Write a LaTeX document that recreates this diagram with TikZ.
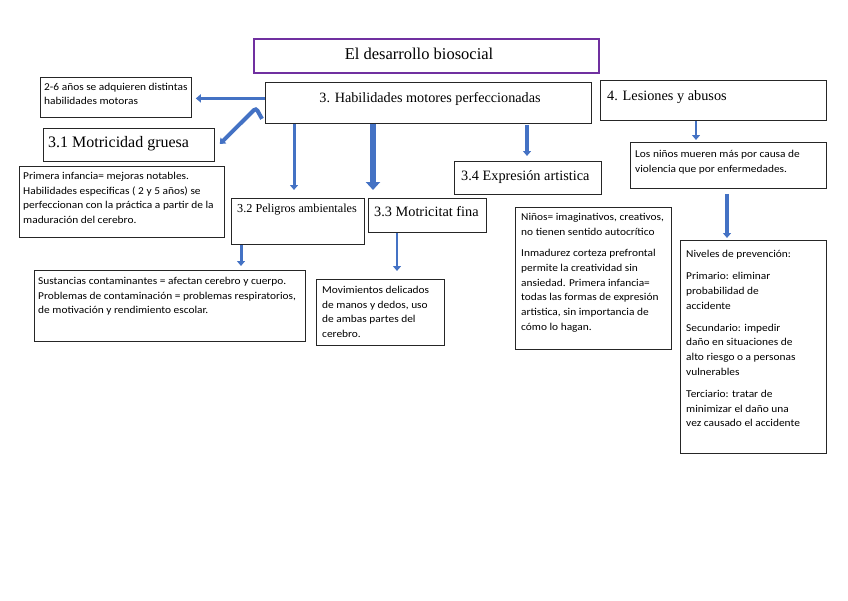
\documentclass[tikz,border=0pt]{standalone}
\usepackage{fontspec}
\setmainfont{Liberation Serif}
\newfontfamily\bodyfont[FakeStretch=1.085]{Carlito}
\usetikzlibrary{arrows.meta,calc}
\definecolor{arrblue}{HTML}{4472C4}
\definecolor{titlepurple}{HTML}{7030A0}
\tikzset{
  box/.style={draw=black!85, line width=0.8pt, inner sep=0pt, anchor=north west},
  head/.style={inner sep=0pt, anchor=west, font=\fontsize{14.3}{16}\selectfont},
  body/.style={inner sep=0pt, anchor=north west, align=left, font=\bodyfont\fontsize{10.5}{14.7}\selectfont},
  arr/.style={draw=arrblue, line width=#1, -{Triangle[width=8pt,length=5pt]}},
}
\begin{document}
\begin{tikzpicture}[x=1pt,y=-1pt]
\useasboundingbox (0,0) rectangle (848,600);
% boxes
\node[box, draw=titlepurple, line width=2.2pt, minimum width=345pt, minimum height=34pt] (title) at (253,38) {};
\node[box, minimum width=151pt, minimum height=40pt] (b26) at (40,77) {};
\node[box, minimum width=326pt, minimum height=41pt] (b3) at (265,82) {};
\node[box, minimum width=226pt, minimum height=40pt] (b4) at (600,80) {};
\node[box, minimum width=171pt, minimum height=33pt] (b31) at (43,128) {};
\node[box, minimum width=205pt, minimum height=71pt] (bpi) at (19,166) {};
\node[box, minimum width=133pt, minimum height=46pt] (b32) at (231,198) {};
\node[box, minimum width=118pt, minimum height=34pt] (b33) at (368,198) {};
\node[box, minimum width=147pt, minimum height=33pt] (b34) at (454,161) {};
\node[box, minimum width=196pt, minimum height=46pt] (bln) at (630,142) {};
\node[box, minimum width=156pt, minimum height=142pt] (bni) at (515,207) {};
\node[box, minimum width=146pt, minimum height=213pt] (bnv) at (680,240) {};
\node[box, minimum width=271pt, minimum height=71pt] (bsu) at (34,270) {};
\node[box, minimum width=128pt, minimum height=66pt] (bmo) at (316,279) {};
% headings
\node[inner sep=0pt, font=\fontsize{16.5}{18}\selectfont] (ttitle) at (419,54) {El desarrollo biosocial};
\node[inner sep=0pt, font=\fontsize{14.2}{16}\selectfont] (t3) at (430,99) {3. Habilidades motores perfeccionadas};
\node[head] (t4) at (607,97) {4. Lesiones y abusos};
\node[head, font=\fontsize{16}{18}\selectfont] (t31) at (48,144) {3.1 Motricidad gruesa};
\node[head, font=\fontsize{12.2}{14}\selectfont] (t32) at (237,210) {3.2 Peligros ambientales};
\node[head] (t33) at (374,212) {3.3 Motricitat fina};
\node[head] (t34) at (461,177) {3.4 Expresión artistica};
% body texts
\node[body, font=\bodyfont\fontsize{10.5}{14}\selectfont] (t26) at (44,83) {2-6 años se adquieren distintas\\habilidades motoras};
\node[body] (tpi) at (23,172) {Primera infancia= mejoras notables.\\Habilidades especificas ( 2 y 5 años) se\\perfeccionan con la práctica a partir de la\\maduración del cerebro.};
\node[body] (tsu) at (38,277) {Sustancias contaminantes = afectan cerebro y cuerpo.\\Problemas de contaminación = problemas respiratorios,\\de motivación y rendimiento escolar.};
\node[body] (tmo) at (322,286) {Movimientos delicados\\de manos y dedos, uso\\de ambas partes del\\cerebro.};
\node[body] (tni) at (521,213) {Niños= imaginativos, creativos,\\no tienen sentido autocrítico\\[7pt]Inmadurez corteza prefrontal\\permite la creatividad sin\\ansiedad. Primera infancia=\\todas las formas de expresión\\artistica, sin importancia de\\cómo lo hagan.};
\node[body] (tln) at (635,150) {Los niños mueren más por causa de\\violencia que por enfermedades.};
\node[body] (tnv) at (686,250) {Niveles de prevención:\\[7.5pt]Primario: eliminar\\probabilidad de\\accidente\\[7.5pt]Secundario: impedir\\daño en situaciones de\\alto riesgo o a personas\\vulnerables\\[7.5pt]Terciario: tratar de\\minimizar el daño una\\vez causado el accidente};
% connector coordinates
\coordinate (x32) at (294,0);
\coordinate (x33) at (373,0);
\coordinate (x34) at (527,0);
\coordinate (x4) at (696,0);
\coordinate (xln) at (727,0);
\coordinate (x32s) at (241,0);
\coordinate (x33m) at (397,0);
\coordinate (bend) at (256,108);
% arrows
\draw[arr=3pt] ([yshift=4.5pt]b3.west) -- ([yshift=4.5pt,xshift=4pt]b3.west -| b26.east);
\draw[arr=4pt, rounded corners=3pt] ([shift={(-3pt,5pt)}]b3.south west) -- (bend) -- ([shift={(5pt,-16pt)}]b31.north east);
\draw[arr=3pt] (b3.south -| x32) -- ([yshift=8pt]b32.north -| x32);
\draw[draw=arrblue, line width=6pt, -{Triangle[width=14pt,length=8pt]}] (b3.south -| x33) -- ([yshift=8pt]b32.north -| x33);
\draw[arr=4pt] ([yshift=-1pt]b3.south -| x34) -- ([yshift=5pt]b34.north -| x34);
\draw[arr=2.5pt] (b4.south -| x4) -- ([yshift=2pt]bln.north -| x4);
\draw[arr=4pt] ([yshift=-5pt]bln.south -| xln) -- ([yshift=2pt]bnv.north -| xln);
\draw[arr=3pt] (b32.south -| x32s) -- ([yshift=4pt]bsu.north -| x32s);
\draw[arr=2.5pt] (b33.south -| x33m) -- ([yshift=8pt]bmo.north -| x33m);
\end{tikzpicture}
\end{document}
